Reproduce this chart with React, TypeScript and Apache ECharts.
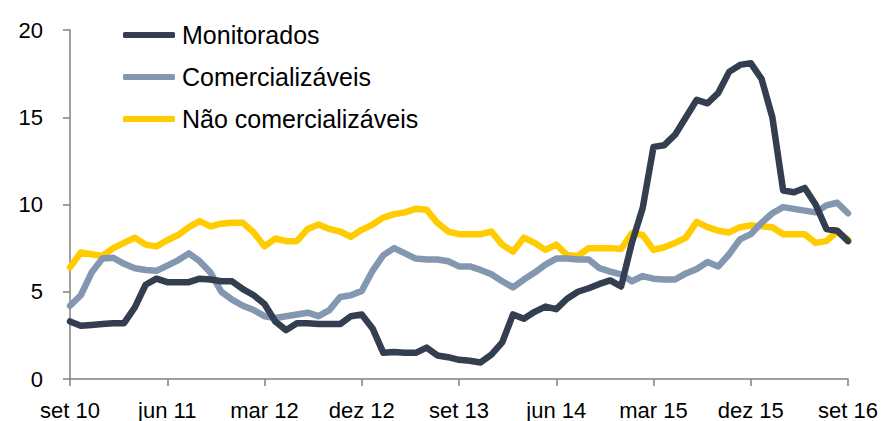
import React, { useEffect, useRef } from "react";
import * as echarts from "echarts";

const monthNames = ["jan", "fev", "mar", "abr", "mai", "jun", "jul", "ago", "set", "out", "nov", "dez"];
// monthly categories: set 10 .. set 16
const categories: string[] = [];
for (let k = 0; k < 73; k++) {
  const m = (8 + k) % 12;
  const y = 10 + Math.floor((8 + k) / 12);
  categories.push(monthNames[m] + " " + String(y));
}

const monitorados = [
  3.3, 3.05, 3.1, 3.15, 3.2, 3.2, 4.1, 5.4, 5.75, 5.55, 5.55, 5.55, 5.75, 5.7, 5.6, 5.6, 5.15, 4.8, 4.3, 3.3,
  2.8, 3.2, 3.2, 3.15, 3.15, 3.15, 3.6, 3.7, 2.9, 1.5, 1.55, 1.5, 1.5, 1.8, 1.35, 1.25, 1.1, 1.05, 0.95, 1.4,
  2.1, 3.7, 3.45, 3.85, 4.15, 4.0, 4.6, 5.0, 5.2, 5.45, 5.65, 5.3, 7.8, 9.8, 13.3, 13.4, 14.0, 15.0, 16.0, 15.8,
  16.4, 17.6, 18.0, 18.1, 17.2, 15.0, 10.8, 10.7, 10.95, 10.0, 8.6, 8.5, 7.9,
];

const comercializaveis = [
  4.2, 4.8, 6.1, 6.9, 6.95, 6.6, 6.35, 6.25, 6.2, 6.5, 6.8, 7.2, 6.75, 6.1, 5.0, 4.55, 4.2, 3.95, 3.6, 3.5,
  3.6, 3.7, 3.8, 3.6, 3.95, 4.7, 4.8, 5.05, 6.2, 7.1, 7.5, 7.2, 6.9, 6.85, 6.85, 6.75, 6.45, 6.45, 6.25, 6.0,
  5.6, 5.25, 5.7, 6.1, 6.55, 6.9, 6.9, 6.85, 6.85, 6.35, 6.15, 6.0, 5.6, 5.9, 5.75, 5.7, 5.7, 6.05, 6.3, 6.7,
  6.45, 7.15, 8.0, 8.3, 8.95, 9.5, 9.85, 9.75, 9.65, 9.55, 9.95, 10.1, 9.5,
];

const naoComercializaveis = [
  6.4, 7.25, 7.15, 7.05, 7.5, 7.8, 8.1, 7.7, 7.6, 7.95, 8.25, 8.7, 9.05, 8.75, 8.9, 8.95, 8.95, 8.4, 7.6, 8.05,
  7.9, 7.9, 8.6, 8.85, 8.6, 8.45, 8.15, 8.55, 8.85, 9.25, 9.45, 9.55, 9.75, 9.7, 8.95, 8.45, 8.3, 8.3, 8.3, 8.45,
  7.7, 7.3, 8.1, 7.8, 7.4, 7.7, 7.1, 7.05, 7.5, 7.5, 7.5, 7.45, 8.35, 8.25, 7.4, 7.55, 7.8, 8.1, 9.0, 8.7,
  8.5, 8.4, 8.7, 8.8, 8.75, 8.7, 8.3, 8.3, 8.3, 7.8, 7.9, 8.45, 8.0,
];

const seriesNames = ["Monitorados", "Comercializáveis", "Não comercializáveis"];
const seriesColors = ["#333f50", "#8497b0", "#ffcc00"];
const yTicks = [0, 5, 10, 15, 20];

const FONT = "'Liberation Sans', Arial, sans-serif";

export default function App() {
  const ref = useRef<HTMLDivElement>(null);
  useEffect(() => {
    if (!ref.current) return;
    const chart = echarts.init(ref.current, undefined, { renderer: "svg" });
    const values = [monitorados, comercializaveis, naoComercializaveis];
    const zs = [4, 3, 2];
    chart.setOption({
      animation: false,
      backgroundColor: "#ffffff",
      textStyle: { fontFamily: FONT },
      grid: { left: 70, right: 36, top: 30, bottom: 41, containLabel: false },
      legend: {
        orient: "vertical",
        left: 123,
        top: 21,
        padding: 0,
        icon: "roundRect",
        itemWidth: 52,
        itemHeight: 6,
        itemGap: 14,
        data: seriesNames,
        textStyle: { fontSize: 25, color: "#000", fontFamily: FONT, lineHeight: 28, padding: [0, 0, 0, 2] },
      },
      xAxis: {
        type: "category",
        data: categories,
        boundaryGap: false,
        axisLine: { show: true, lineStyle: { color: "#808080", width: 1.5 } },
        axisTick: { show: true, interval: 8, length: 7, lineStyle: { color: "#808080", width: 1.5 } },
        axisLabel: { interval: 8, fontSize: 22, color: "#000", margin: 20, fontFamily: FONT },
        splitLine: { show: false },
      },
      yAxis: {
        type: "value",
        min: yTicks[0],
        max: yTicks[yTicks.length - 1],
        interval: 5,
        axisLine: { show: true, lineStyle: { color: "#808080", width: 1.5 } },
        axisTick: { show: true, length: 7, lineStyle: { color: "#808080", width: 1.5 } },
        axisLabel: { fontSize: 22, color: "#000", margin: 27, fontFamily: FONT },
        splitLine: { show: false },
      },
      series: seriesNames.map((name, i) => ({
        name,
        type: "line",
        data: values[i],
        z: zs[i],
        symbol: "none",
        showSymbol: false,
        color: seriesColors[i],
        lineStyle: { color: seriesColors[i], width: 6.5, join: "round", cap: "round" },
      })),
    });
    return () => chart.dispose();
  }, []);
  return (
    <div
      ref={ref}
      style={{ position: "absolute", left: 0, top: 0, width: 884, height: 421, background: "#fff" }}
    />
  );
}
